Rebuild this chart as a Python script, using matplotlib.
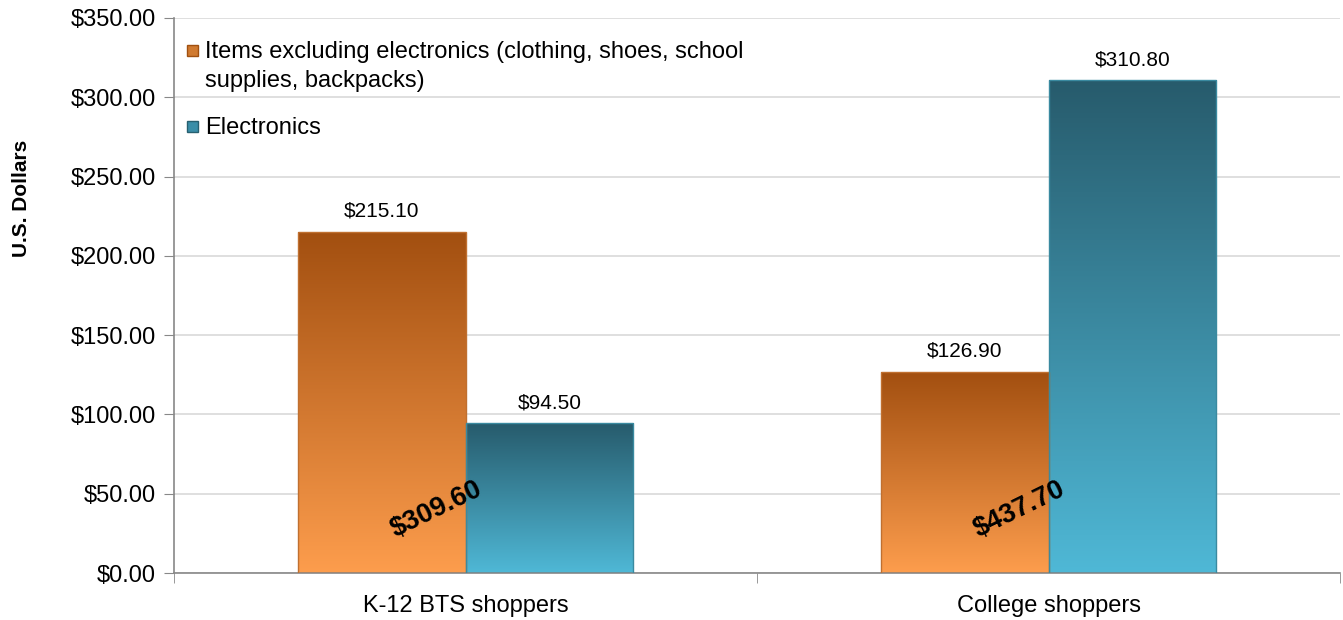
import numpy as np
import matplotlib
matplotlib.use("Agg")
import matplotlib.pyplot as plt
from matplotlib.colors import LinearSegmentedColormap
from matplotlib.patches import Rectangle

plt.rcParams['font.family'] = ['Liberation Sans', 'DejaVu Sans']

categories = ["K-12 BTS shoppers", "College shoppers"]
series_names = ["Items excluding electronics (clothing, shoes, school\nsupplies, backpacks)", "Electronics"]
items_excl = [215.10, 126.90]
electronics = [94.50, 310.80]
totals = ["$309.60", "$437.70"]
yticks = [0, 50, 100, 150, 200, 250, 300, 350]

W, H = 1343, 620
fig = plt.figure(figsize=(W / 100, H / 100), dpi=100)
ax = fig.add_axes([0.1296, 0.0758, 0.8682, 0.8952])

x = np.arange(len(categories))
w = 0.288
grads = [("#a24f10", "#fd9d4d"), ("#275b6c", "#4fb8d6")]
edge = ["#c07030", "#3a8aa0"]
handle_col = [("#d07a30", "#a05010"), ("#3a8ea8", "#276070")]

ax.set_xlim(-0.5, 1.5)
ax.set_ylim(0, 350)
ax.set_yticks(yticks)
ax.set_yticklabels(["${:,.2f}".format(v) for v in yticks], fontsize=17)
ax.yaxis.grid(True, color="#d9d9d9", linewidth=1.2)
ax.set_axisbelow(True)

for s, (vals, off) in enumerate([(items_excl, -w / 2), (electronics, w / 2)]):
    cmap = LinearSegmentedColormap.from_list("g%d" % s, [grads[s][1], grads[s][0]])
    bars = ax.bar(x + off, vals, width=w, color="none", edgecolor=edge[s], linewidth=1.0, zorder=3)
    for b, v in zip(bars, vals):
        grad = np.linspace(0, 1, 256).reshape(-1, 1)
        im = ax.imshow(grad, cmap=cmap, origin="lower", aspect="auto", zorder=2,
                       extent=[b.get_x(), b.get_x() + b.get_width(), 0, v])
        im.set_clip_path(b)
        ax.annotate("${:,.2f}".format(v), (b.get_x() + b.get_width() / 2, v),
                    xytext=(0, 8), textcoords="offset points", ha="center", va="bottom",
                    fontsize=15)

ax.set_xlim(-0.5, 1.5)
ax.set_ylim(0, 350)

for i, t in enumerate(totals):
    ax.text(x[i] - 0.05, 40, t, rotation=26, ha="center", va="center",
            fontsize=19.5, fontweight="bold", zorder=5)

ax.set_xticks(x)
ax.set_xticklabels(categories, fontsize=17)
ax.tick_params(axis="x", length=0, pad=16)
ax.set_xticks([-0.5, 0.5, 1.5], minor=True)
ax.tick_params(axis="x", which="minor", length=7, color="#888888", direction="out")
ax.tick_params(axis="y", length=7, color="#888888", direction="out", pad=6)

for sp in ["top", "right"]:
    ax.spines[sp].set_visible(False)
for sp in ["left", "bottom"]:
    ax.spines[sp].set_color("#888888")
    ax.spines[sp].set_linewidth(1.2)

# legend drawn manually (handle aligned with first text line)
leg_rows = [50, 126]  # first-line centre y in pixels
for s, name in enumerate(series_names):
    y_first = leg_rows[s]
    fig.patches.append(Rectangle((187 / W, 1 - (y_first + 5.5) / H), 11 / W, 11 / H,
                                 transform=fig.transFigure, facecolor=handle_col[s][0],
                                 edgecolor=handle_col[s][1], linewidth=1))
    fig.text(205 / W, 1 - (y_first - 9) / H, name, ha="left", va="top", fontsize=17,
             linespacing=1.4)

fig.text(0.016, 1 - 198 / 620, "U.S. Dollars", rotation=90, ha="center", va="center",
         fontsize=15, fontweight="bold")

fig.savefig("out.png", dpi=100)
